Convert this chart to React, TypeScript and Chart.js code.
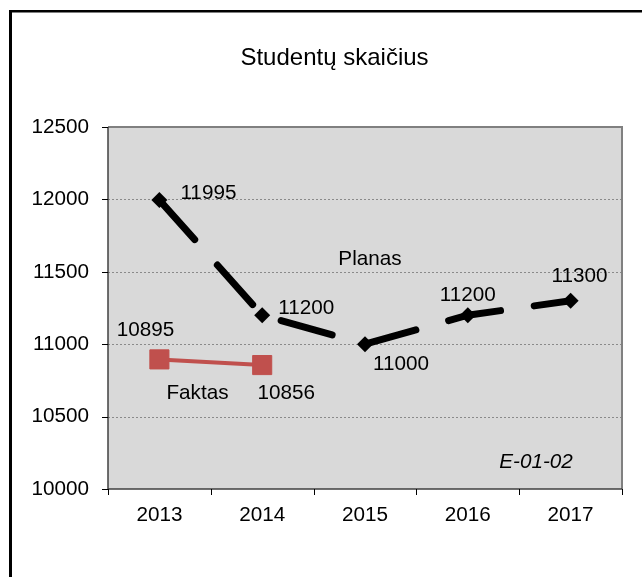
import React, { useEffect, useRef } from "react";
import { Chart, registerables } from "chart.js";

Chart.register(...registerables);

// ---- data ----
const years = ["2013", "2014", "2015", "2016", "2017"];
const planas = [11995, 11200, 11000, 11200, 11300];
const faktas: (number | null)[] = [10895, 10856, null, null, null];
const yTicks = [10000, 10500, 11000, 11500, 12000, 12500];
const titleText = "Studentų skaičius";
const planasName = "Planas";
const faktasName = "Faktas";
const codeText = "E-01-02";

// ---- styles ----
const FONT = '"Liberation Sans", Arial, sans-serif';
const FS = 20.7;
const planasLabelOffsets = [
  [49, -7],
  [44, -7],
  [36, 20],
  [0, -20],
  [9, -24],
];
const faktasLabelOffsets = [
  [-14, -29],
  [24, 28],
];

const decorPlugin = {
  id: "decor",
  beforeDraw(chart: any) {
    const { ctx, chartArea: a, width, height } = chart;
    ctx.save();
    ctx.fillStyle = "#ffffff";
    ctx.fillRect(0, 0, width, height);
    // outer frame (left and top)
    ctx.fillStyle = "#000000";
    ctx.fillRect(9, 10, width - 9, 2.5);
    ctx.fillRect(9, 10, 3, height - 10);
    // plot area
    ctx.fillStyle = "#d9d9d9";
    ctx.fillRect(a.left, a.top, a.right - a.left, a.bottom - a.top);
    // title
    ctx.fillStyle = "#000";
    ctx.font = `24px ${FONT}`;
    ctx.textAlign = "center";
    ctx.textBaseline = "middle";
    ctx.fillText(titleText, 334.5, 58);
    ctx.restore();
  },
  beforeDatasetsDraw(chart: any) {
    const { ctx, chartArea: a, scales } = chart;
    const ys = scales.y;
    const xs = scales.x;
    ctx.save();
    // dotted gridlines
    ctx.strokeStyle = "#8a8a8a";
    ctx.lineWidth = 1;
    ctx.setLineDash([2, 2]);
    yTicks.forEach((v) => {
      if (v === yTicks[0] || v === yTicks[yTicks.length - 1]) return;
      const y = Math.round(ys.getPixelForValue(v)) + 0.5;
      ctx.beginPath();
      ctx.moveTo(a.left, y);
      ctx.lineTo(a.right, y);
      ctx.stroke();
    });
    ctx.setLineDash([]);
    // plot border top/right
    ctx.strokeStyle = "#808080";
    ctx.lineWidth = 2;
    ctx.beginPath();
    ctx.moveTo(a.left, a.top);
    ctx.lineTo(a.right, a.top);
    ctx.lineTo(a.right, a.bottom);
    ctx.stroke();
    // axes
    ctx.strokeStyle = "#404040";
    ctx.lineWidth = 1.5;
    ctx.beginPath();
    ctx.moveTo(a.left, a.top);
    ctx.lineTo(a.left, a.bottom);
    ctx.lineTo(a.right, a.bottom);
    ctx.stroke();
    // tick marks
    ctx.lineWidth = 1;
    ctx.strokeStyle = "#000";
    ctx.beginPath();
    yTicks.forEach((v) => {
      const y = Math.round(ys.getPixelForValue(v)) + 0.5;
      ctx.moveTo(a.left - 6, y);
      ctx.lineTo(a.left, y);
    });
    const n = years.length;
    for (let i = 0; i <= n; i++) {
      const x = Math.round(xs.left + ((xs.right - xs.left) * i) / n) + 0.5;
      ctx.moveTo(x, a.bottom);
      ctx.lineTo(x, a.bottom + 6);
    }
    ctx.stroke();
    ctx.restore();
  },
  afterDatasetsDraw(chart: any) {
    const { ctx, chartArea: a } = chart;
    ctx.save();
    ctx.fillStyle = "#000";
    ctx.font = `${FS}px ${FONT}`;
    ctx.textAlign = "center";
    ctx.textBaseline = "middle";
    const offs = [planasLabelOffsets, faktasLabelOffsets];
    chart.data.datasets.forEach((ds: any, di: number) => {
      const meta = chart.getDatasetMeta(di);
      ds.data.forEach((v: number | null, i: number) => {
        if (v == null) return;
        const el = meta.data[i];
        const o = offs[di][i] || [0, -20];
        ctx.fillText(String(v), el.x + o[0], el.y + o[1]);
      });
    });
    // series names
    ctx.fillText(planasName, 370, 259);
    ctx.fillText(faktasName, 197.5, 393);
    ctx.font = `italic ${FS}px ${FONT}`;
    ctx.fillText(codeText, a.right - 86, a.bottom - 27);
    ctx.restore();
  },
};

export default function App() {
  const ref = useRef<HTMLCanvasElement | null>(null);
  useEffect(() => {
    document.body.style.margin = "0";
    const chart = new Chart(ref.current as HTMLCanvasElement, {
      type: "line",
      data: {
        labels: years,
        datasets: [
          {
            label: planasName,
            data: planas,
            borderColor: "#000000",
            backgroundColor: "#000000",
            borderWidth: 7,
            borderDash: [53, 34],
            borderCapStyle: "round",
            pointStyle: "rectRot",
            pointRadius: 8,
            pointBorderWidth: 0,
            pointBackgroundColor: "#000000",
            tension: 0,
          },
          {
            label: faktasName,
            data: faktas,
            borderColor: "#c0504d",
            backgroundColor: "#c0504d",
            borderWidth: 4,
            pointStyle: "rect",
            pointRadius: 13.5,
            pointBorderWidth: 1,
            pointBorderColor: "#c0504d",
            pointBackgroundColor: "#c0504d",
            tension: 0,
            spanGaps: false,
          },
        ],
      },
      options: {
        animation: false,
        responsive: false,
        devicePixelRatio: 1,
        layout: { padding: { left: 0, top: 127, right: 20, bottom: 0 } },
        plugins: {
          legend: { display: false },
          title: { display: false },
          tooltip: { enabled: false },
        },
        scales: {
          x: {
            offset: true,
            grid: { display: false, drawTicks: false },
            border: { display: false },
            ticks: {
              color: "#000",
              font: { family: FONT, size: FS },
              padding: 14,
              maxRotation: 0,
            },
            afterFit: (s: any) => {
              s.height = 88;
            },
          },
          y: {
            min: 10000,
            max: 12500,
            grid: { display: false, drawTicks: false },
            border: { display: false },
            ticks: {
              stepSize: 500,
              color: "#000",
              font: { family: FONT, size: FS },
              padding: 19,
              callback: (v: any) => String(v),
            },
            afterFit: (s: any) => {
              s.width = 108;
            },
          },
        },
      },
      plugins: [decorPlugin],
    } as any);
    return () => chart.destroy();
  }, []);
  return (
    <div style={{ width: 642, height: 577 }}>
      <canvas ref={ref} width={642} height={577} style={{ display: "block" }} />
    </div>
  );
}
